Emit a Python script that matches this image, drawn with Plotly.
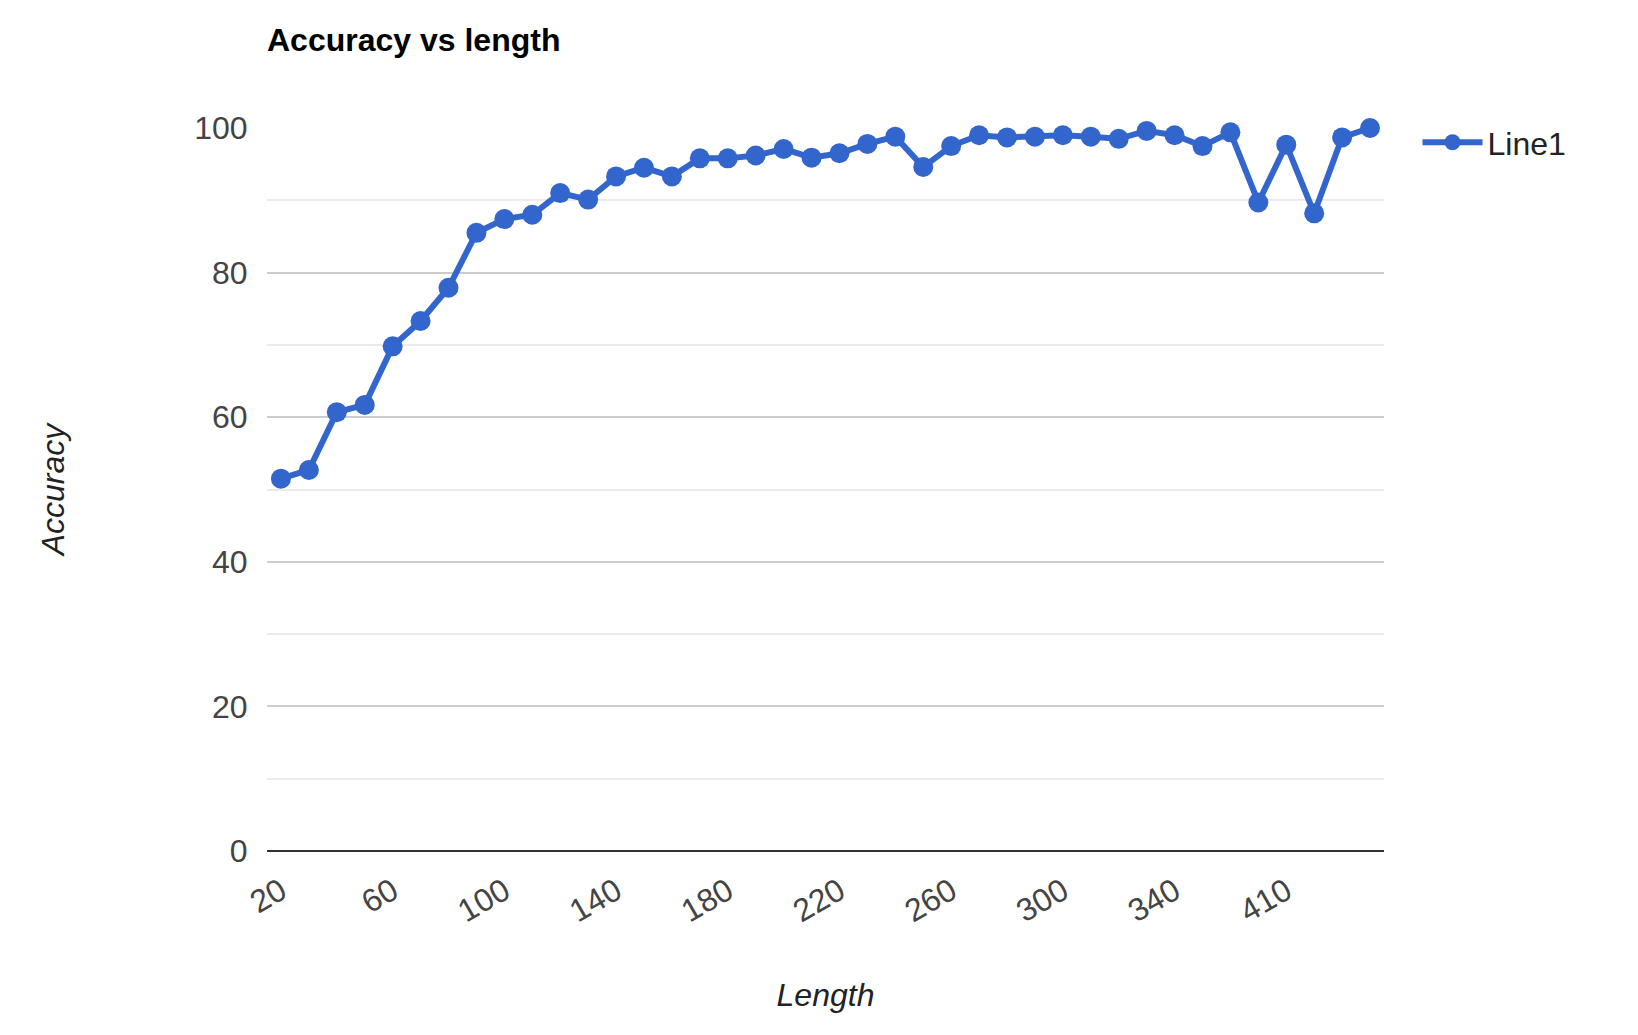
import plotly.graph_objects as go

lengths = ['20', '30', '40', '50', '60', '70', '80', '90', '100', '110',
           '120', '130', '140', '150', '160', '170', '180', '190', '200', '210',
           '220', '230', '240', '250', '260', '270', '280', '290', '300', '310',
           '320', '330', '340', '350', '360', '370', '410', '420', '430', '440']
accuracy = [51.5, 52.7, 60.7, 61.7, 69.8, 73.3, 77.9, 85.5, 87.4, 88.0,
            91.0, 90.1, 93.3, 94.5, 93.3, 95.8, 95.8, 96.2, 97.1, 95.9,
            96.5, 97.8, 98.8, 94.6, 97.5, 99.0, 98.7, 98.8, 99.0, 98.8,
            98.5, 99.6, 99.0, 97.5, 99.4, 89.7, 97.7, 88.2, 98.7, 100.0]
tick_labels = ['20', '60', '100', '140', '180', '220', '260', '300', '340', '410']

fig = go.Figure()
fig.add_trace(go.Scatter(x=lengths, y=accuracy, mode='lines+markers', name='Line1',
                         line=dict(color='#3366cc', width=6), cliponaxis=False,
                         marker=dict(color='#3366cc', size=20)))

font = 'Arial, Liberation Sans, sans-serif'
fig.update_layout(
    width=1638, height=1035,
    paper_bgcolor='white', plot_bgcolor='white',
    margin=dict(l=259, r=262, t=120, b=192),
    font=dict(family=font, size=32, color='#444'),
    title=dict(text='<b>Accuracy vs length</b>', x=259 / 1638, xanchor='left',
               y=1 - 32 / 1035, yanchor='middle', font=dict(size=32, color='black')),
    legend=dict(x=1.03, y=0.98, xanchor='left', yanchor='middle',
                font=dict(size=32, color='#222'), itemwidth=60),
    showlegend=True,
)
fig.update_xaxes(type='category', range=[-0.5, 39.5], tickmode='array',
                 tickvals=tick_labels, ticktext=tick_labels, tickangle=-30,
                 showgrid=False, showline=False, ticks='outside', ticklen=8, tickcolor='white',
                 title=dict(text='<i>Length</i>', font=dict(size=32, color='#222'), standoff=55))
fig.update_yaxes(range=[0, 100], dtick=20, gridcolor='#cccccc', gridwidth=2,
                 minor=dict(dtick=10, showgrid=True, gridcolor='#ebebeb', gridwidth=2),
                 zeroline=True, zerolinecolor='#333', zerolinewidth=2,
                 ticks='outside', ticklen=12, tickcolor='white',
                 title=dict(text='<i>Accuracy</i>', font=dict(size=32, color='#222'), standoff=120))

fig.write_html("out.html")
